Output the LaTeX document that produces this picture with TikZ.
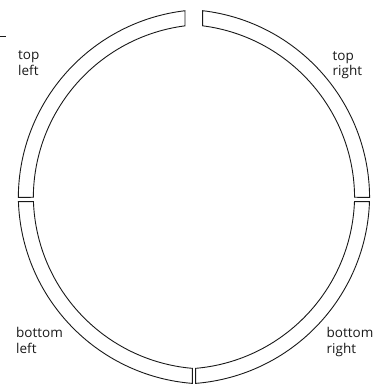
\documentclass[tikz,border=0pt]{standalone}
\usepackage{fontspec}
\setmainfont{Open Sans}
\begin{document}
\begin{tikzpicture}[x=1pt,y=1pt,
  seg/.style={draw=black!90, line width=0.9pt, line join=miter},
  lbl/.style={anchor=base west, inner sep=0pt, align=left, font=\fontsize{13.5}{15.5}\selectfont, text=black!90}]
\useasboundingbox (0,0) rectangle (386,386);
\def\Ro{189}\def\Ri{174}
% #1,#2 centre; #3 start angle; #4 end angle (outer); #5 start; #6 end (inner)
\newcommand\myringseg[6]{%
  \draw[seg] ({#1+\Ro*cos(#3)},{#2+\Ro*sin(#3)})
    arc[start angle=#3,end angle=#4,radius=\Ro]
    -- ({#1+\Ri*cos(#6)},{#2+\Ri*sin(#6)})
    arc[start angle=#6,end angle=#5,radius=\Ri] -- cycle;}
% top left
\def\ca{207.3}\def\cb{187.6}
\pgfmathsetmacro\aO{acos((185-\ca)/\Ro)}\pgfmathsetmacro\bO{180-asin((188.7-\cb)/\Ro)}
\pgfmathsetmacro\aI{acos((185-\ca)/\Ri)}\pgfmathsetmacro\bI{180-asin((188.7-\cb)/\Ri)}
\myringseg{\ca}{\cb}{\aO}{\bO}{\aI}{\bI}
% top right
\def\ca{180.6}\def\cb{187.6}
\pgfmathsetmacro\aO{asin((188.7-\cb)/\Ro)}\pgfmathsetmacro\bO{acos((202.7-\ca)/\Ro)}
\pgfmathsetmacro\aI{asin((188.7-\cb)/\Ri)}\pgfmathsetmacro\bI{acos((202.7-\ca)/\Ri)}
\myringseg{\ca}{\cb}{\aO}{\bO}{\aI}{\bI}
% bottom left
\def\ca{207.3}\def\cb{191}
\pgfmathsetmacro\aO{180-asin((184.3-\cb)/\Ro)}\pgfmathsetmacro\bO{360-acos((192.3-\ca)/\Ro)}
\pgfmathsetmacro\aI{180-asin((184.3-\cb)/\Ri)}\pgfmathsetmacro\bI{360-acos((192.3-\ca)/\Ri)}
\myringseg{\ca}{\cb}{\aO}{\bO}{\aI}{\bI}
% bottom right
\def\ca{180.6}\def\cb{191}
\pgfmathsetmacro\aO{360-acos((195.7-\ca)/\Ro)}\pgfmathsetmacro\bO{360+asin((184.3-\cb)/\Ro)}
\pgfmathsetmacro\aI{360-acos((195.7-\ca)/\Ri)}\pgfmathsetmacro\bI{360+asin((184.3-\cb)/\Ri)}
\myringseg{\ca}{\cb}{\aO}{\bO}{\aI}{\bI}
% stray dash
\coordinate (d1) at (0,350);
\coordinate (d2) at (6,350);
\draw[black!90, line width=0.9pt] (d1) -- (d2);
% labels
\node[lbl] (tl) at (18,310.5) {top\\left};
\node[lbl] (tr) at (332.5,310) {top\\right};
\node[lbl] (bl) at (16,32.5) {bottom\\left};
\node[lbl] (br) at (326.5,32.5) {bottom\\right};
\end{tikzpicture}
\end{document}
